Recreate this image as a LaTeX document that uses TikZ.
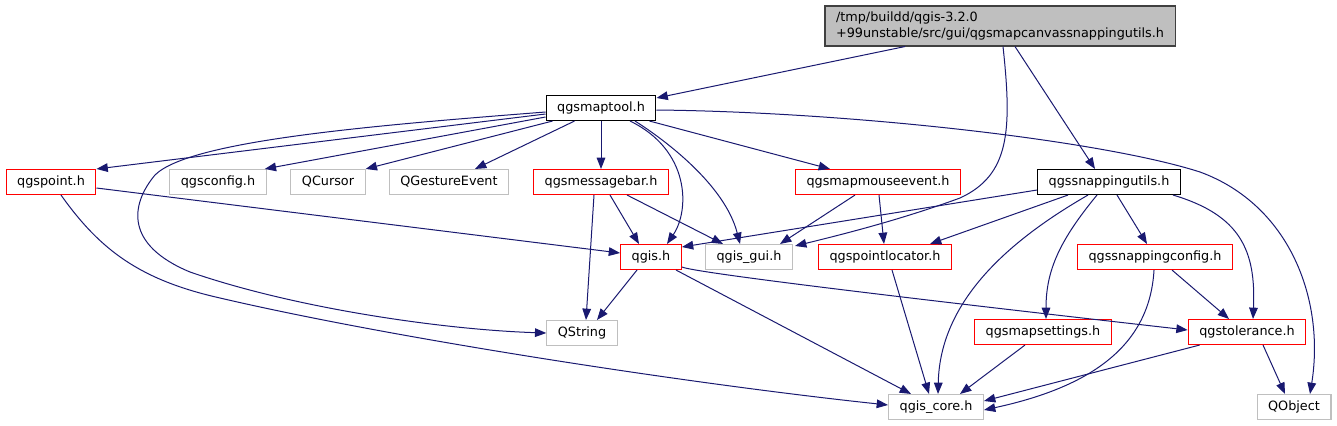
\documentclass[tikz,border=0pt]{standalone}
\usepackage{xcolor}
\usepackage{fontspec}
\setmainfont{DejaVu Sans}
\usepackage{tikz}
\usetikzlibrary{
    positioning,
    arrows.meta,
    calc
}
\definecolor{EdgeBlue}{RGB}{25,25,112}
\definecolor{BoxGrey}{RGB}{191,191,191}
\definecolor{BoxRed}{RGB}{255,0,0}
\definecolor{BoxDark}{RGB}{64,64,64}

\begin{document}
\begin{tikzpicture}[
    x=0.75pt, y=-0.75pt,
    every node/.style={font=\fontsize{9.6}{12.5}\selectfont, inner xsep=8.3pt, inner ysep=2pt, minimum height=18.75pt},
    rootfile/.style={rectangle, draw=BoxDark, line width=0.8pt, fill=BoxGrey, align=left, minimum height=30pt},
    header/.style={rectangle, draw=black, line width=0.8pt, fill=white},
    truncated/.style={rectangle, draw=BoxRed, line width=0.8pt, fill=white},
    external/.style={rectangle, draw=BoxGrey, line width=0.8pt, fill=white},
    arrow/.style={line width=0.75pt, color=EdgeBlue, -{Triangle[length=8.5pt, width=6.5pt]}}
]
\useasboundingbox (0,0) rectangle (1337,425);

% file being documented
\node[rootfile] (root) at (1000,26) {/tmp/buildd/qgis-3.2.0\\+99unstable/src/gui/qgsmapcanvassnappingutils.h};

% direct includes
\node[header] (maptool) at (601,108) {qgsmaptool.h};
\node[header] (snapu) at (1109,182) {qgssnappingutils.h};

% second row
\node[truncated] (point) at (51,182) {qgspoint.h};
\node[external] (config) at (218,182) {qgsconfig.h};
\node[external] (cursor) at (328,182) {QCursor};
\node[external] (gesture) at (449,182) {QGestureEvent};
\node[truncated] (msgbar) at (601,182) {qgsmessagebar.h};
\node[truncated] (mouse) at (878,182) {qgsmapmouseevent.h};

% third row
\node[truncated] (qgis) at (651,257) {qgis.h};
\node[external] (gui) at (749,257) {qgis\_gui.h};
\node[truncated] (locator) at (885,257) {qgspointlocator.h};
\node[truncated] (snapcfg) at (1155,257) {qgssnappingconfig.h};

% fourth row
\node[external] (qstring) at (582,333) {QString};
\node[truncated] (mapsettings) at (1043,332) {qgsmapsettings.h};
\node[truncated] (tolerance) at (1247,332) {qgstolerance.h};

% bottom row
\node[external] (core) at (936,407) {qgis\_core.h};
\node[external] (qobject) at (1294,407) {QObject};

% root
\draw[arrow] ($(root.south)+(-95,0)$) -- ($(maptool.east)+(0,-10)$);
\draw[arrow] ($(root.south)+(3,0)$) .. controls (1012,130) and (1010,175) .. (960,198) .. controls (900,220) and (840,235) .. ($(gui.north east)+(2,2)$);
\draw[arrow] ($(root.south)+(15,0)$) -- ($(snapu.north)+(-14,0)$);

% qgsmaptool.h
\draw[arrow] ($(maptool.west)+(0,6)$) -- (point.north east);
\draw[arrow] ($(maptool.west)+(0,9)$) -- ($(config.north east)+(-2,0)$);
\draw[arrow] ($(maptool.south west)+(7,0)$) -- (cursor.north east);
\draw[arrow] ($(maptool.south west)+(29,0)$) -- ($(gesture.north)+(26,0)$);
\draw[arrow] (maptool.south) -- (msgbar.north);
\draw[arrow] ($(maptool.south east)+(-7,0)$) -- ($(mouse.north)+(-48,0)$);
\draw[arrow] ($(maptool.south)+(29,0)$) .. controls (690,150) and (690,210) .. ($(qgis.north)+(16,0)$);
\draw[arrow] ($(maptool.south)+(34,0)$) .. controls (665,140) and (725,185) .. ($(gui.north)+(-9,0)$);
\draw[arrow] ($(maptool.west)+(0,4)$) .. controls (380,125) and (190,140) .. (155,175) .. controls (130,205) and (125,245) .. (190,272) .. controls (300,310) and (450,330) .. (qstring.west);
\draw[arrow] ($(maptool.east)+(0,2)$) .. controls (850,112) and (1100,140) .. (1200,172) .. controls (1290,205) and (1325,300) .. ($(qobject.north)+(16,0)$);

% qgspoint.h
\draw[arrow] ($(point.east)+(0,6)$) -- ($(qgis.west)+(0,-4)$);
\draw[arrow] ($(point.south)+(10,0)$) .. controls (100,250) and (140,280) .. (220,298) .. controls (400,340) and (700,385) .. ($(core.west)+(0,-2)$);

% qgsmessagebar.h
\draw[arrow] ($(msgbar.south)+(-7,0)$) -- ($(qstring.north)+(4,0)$);
\draw[arrow] ($(msgbar.south)+(9,0)$) -- ($(qgis.north)+(-12,0)$);
\draw[arrow] ($(msgbar.south)+(26,0)$) -- ($(gui.north)+(-26,0)$);

% qgsmapmouseevent.h
\draw[arrow] ($(mouse.south)+(-23,0)$) -- ($(gui.north)+(31,0)$);
\draw[arrow] ($(mouse.south)+(1,0)$) -- ($(locator.north)+(-1,0)$);

% qgssnappingutils.h
\draw[arrow] ($(snapu.west)+(0,8)$) -- ($(qgis.east)+(0,-10)$);
\draw[arrow] ($(snapu.south)+(-41,0)$) -- ($(locator.north)+(45,0)$);
\draw[arrow] ($(snapu.south)+(-21,0)$) .. controls (1010,240) and (940,300) .. ($(core.north)+(2,0)$);
\draw[arrow] ($(snapu.south)+(-12,0)$) .. controls (1060,240) and (1046,270) .. ($(mapsettings.north)+(3,0)$);
\draw[arrow] ($(snapu.south)+(8,0)$) -- ($(snapcfg.north)+(-8,0)$);
\draw[arrow] ($(snapu.south east)+(-8,0)$) .. controls (1240,215) and (1256,250) .. ($(tolerance.north)+(6,0)$);

% qgis.h
\draw[arrow] ($(qgis.south)+(-14,0)$) -- ($(qstring.north)+(15,0)$);
\draw[arrow] ($(qgis.south)+(25,0)$) -- ($(core.north)+(-25,0)$);
\draw[arrow] ($(qgis.east)+(0,10)$) .. controls (700,275) and (1100,320) .. ($(tolerance.west)+(0,-2)$);

% lower rows
\draw[arrow] ($(locator.south)+(7,0)$) -- ($(core.north)+(-7,0)$);
\draw[arrow] ($(snapcfg.south)+(17,0)$) -- ($(tolerance.north)+(-18,0)$);
\draw[arrow] ($(snapcfg.south)+(-1,0)$) .. controls (1150,340) and (1100,385) .. ($(core.east)+(0,3)$);
\draw[arrow] ($(mapsettings.south)+(-18,0)$) -- ($(core.north)+(24,0)$);
\draw[arrow] ($(tolerance.south west)+(12,0)$) -- ($(core.east)+(0,-6)$);
\draw[arrow] ($(tolerance.south)+(16,0)$) -- ($(qobject.north)+(-9,0)$);
\end{tikzpicture}
\end{document}
